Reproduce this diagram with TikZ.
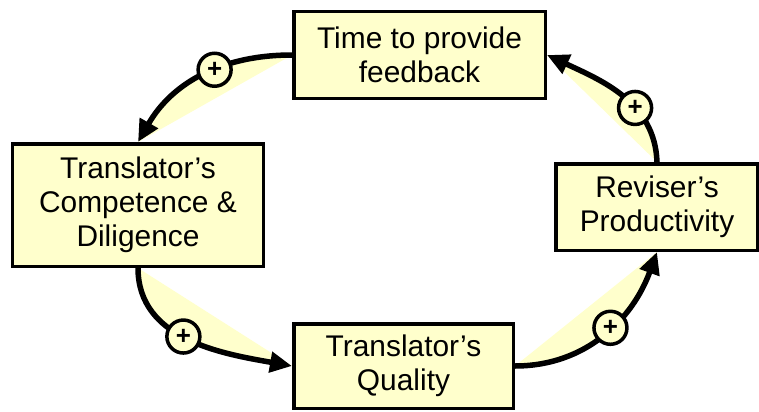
\documentclass[tikz,border=0pt]{standalone}
\usepackage{fontspec}
\setmainfont{Liberation Sans}
\usetikzlibrary{arrows.meta}
\definecolor{pale}{RGB}{255,255,204}
\begin{document}
\begin{tikzpicture}[x=1bp,y=1bp,
  box/.style={draw=black, line width=3.5bp, fill=pale, inner sep=0pt, align=center,
    font=\fontsize{30}{34}\selectfont},
  plus/.style={circle, draw=black, line width=3.5bp, fill=pale, minimum size=33bp,
    inner sep=0pt, font=\fontsize{26}{26}\selectfont\bfseries},
  link/.style={line width=5.5bp, -{Triangle[length=22bp,width=20bp]}},
  wedge/.style={fill=pale}]
\useasboundingbox[fill=white] (0,0) rectangle (759,411);
\node[box, minimum width=251.5bp, minimum height=86.5bp] (time) at (419.5,356) {Time to provide\\feedback};
\node[box, minimum width=250.5bp, minimum height=122.5bp] (comp) at (138,206) {Translator’s\\Competence \&\\Diligence};
\node[box, minimum width=202bp, minimum height=86.5bp] (rev) at (657,204) {Reviser’s\\Productivity};
\node[box, minimum width=219.5bp, minimum height=84.5bp] (qual) at (403.5,45) {Translator’s\\Quality};
% wedges
\fill[wedge] (time.west) to[out=180,in=60] (comp.north) -- cycle;
\fill[wedge] (comp.south) to[out=270,in=170] (qual.west) -- cycle;
\fill[wedge] (qual.east) to[out=0,in=250] (rev.south) -- cycle;
\fill[wedge] (rev.north) to[out=92,in=-25] (time.east) -- cycle;
% links
\draw[link] (time.west) to[out=180,in=60] node[plus,pos=0.42] (p1) {+} (comp.north);
\draw[link] (comp.south) to[out=270,in=170] node[plus,pos=0.47] (p2) {+} (qual.west);
\draw[link] (qual.east) to[out=0,in=250] node[plus,pos=0.55] (p3) {+} (rev.south);
\draw[link] (rev.north) to[out=92,in=-25] node[plus,pos=0.38] (p4) {+} (time.east);
\end{tikzpicture}
\end{document}
